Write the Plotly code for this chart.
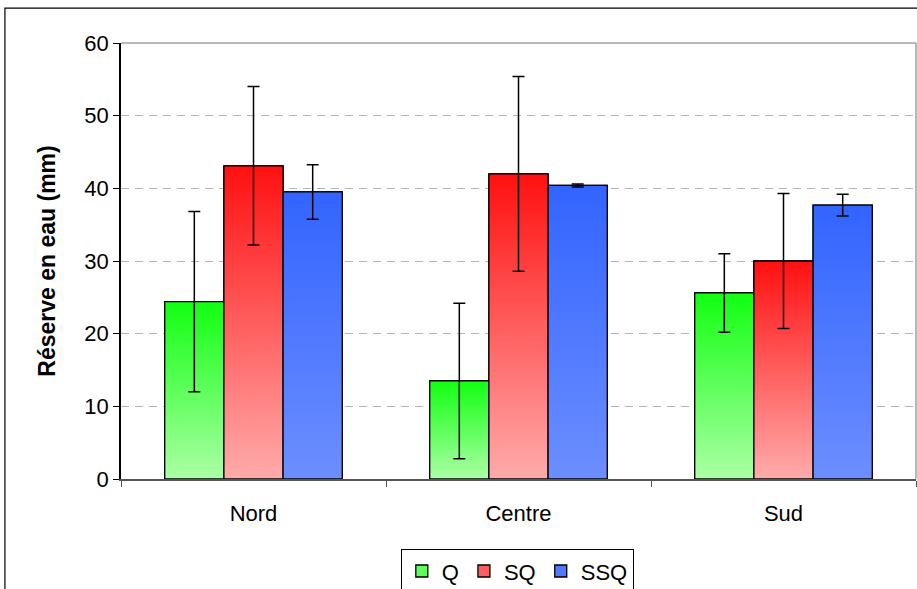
import plotly.graph_objects as go

categories = ["Nord", "Centre", "Sud"]
series_names = ["Q", "SQ", "SSQ"]
q_values = [24.4, 13.5, 25.6]
sq_values = [43.1, 42.0, 30.0]
ssq_values = [39.5, 40.4, 37.7]
q_err = [12.4, 10.7, 5.4]
sq_err = [10.9, 13.4, 9.3]
ssq_err = [3.75, 0.2, 1.5]
y_ticks = [0, 10, 20, 30, 40, 50, 60]

values = [q_values, sq_values, ssq_values]
errors = [q_err, sq_err, ssq_err]
top_colors = ["#12FF12", "#FF1010", "#3264FF"]
bottom_colors = ["#ACFFA6", "#FFABAB", "#6C8EFF"]
mid_colors = ["#5EFF5A", "#FF5E5E", "#4F7AFF"]

bargap = 0.33
w = (1 - bargap) / 3
x_idx = list(range(len(categories)))

fig = go.Figure()

# Data bars (legend + base geometry)
for k, name in enumerate(series_names):
    fig.add_trace(go.Bar(
        x=x_idx, y=values[k], name=name,
        marker=dict(color=mid_colors[k], line=dict(color="black", width=1.3)),
        hoverinfo="skip",
    ))

# Gradient overlay for each bar, same geometry as the bars
for k, name in enumerate(series_names):
    off = (k - 1) * w
    for i, v in enumerate(values[k]):
        x0 = i + off - w / 2
        x1 = i + off + w / 2
        fig.add_trace(go.Scatter(
            x=[x0, x0, x1, x1, x0], y=[0, v, v, 0, 0],
            mode="lines", fill="toself",
            fillgradient=dict(type="vertical", start=0, stop=v,
                              colorscale=[[0, bottom_colors[k]], [1, top_colors[k]]]),
            line=dict(color="black", width=1.3),
            showlegend=False, hoverinfo="skip",
        ))

# Error bars
for k, name in enumerate(series_names):
    off = (k - 1) * w
    fig.add_trace(go.Scatter(
        x=[i + off for i in x_idx], y=values[k], mode="markers",
        marker=dict(size=1, color="rgba(0,0,0,0)"),
        error_y=dict(type="data", array=errors[k], visible=True,
                     color="black", thickness=1.5, width=6),
        showlegend=False, hoverinfo="skip",
    ))

# Outer frame
fig.add_shape(type="rect", xref="paper", yref="paper",
              x0=-0.146, x1=1.05, y0=-0.4, y1=1.080,
              line=dict(color="black", width=1.2), layer="below")

fig.update_layout(
    width=917, height=589,
    margin=dict(l=121, r=1, t=43, b=110, autoexpand=False),
    paper_bgcolor="white", plot_bgcolor="white",
    barmode="group", bargap=bargap, bargroupgap=0,
    font=dict(family="Liberation Sans, Arial, sans-serif", color="black", size=22),
    legend=dict(orientation="h", x=0.4985, xanchor="center", y=-0.161, yanchor="top",
                bordercolor="black", borderwidth=1, bgcolor="white",
                font=dict(size=22), tracegroupgap=0,
                traceorder="normal"),
    showlegend=True,
)

fig.update_xaxes(
    range=[-0.5, 2.5], tickvals=x_idx, ticktext=categories, ticks="",
    showline=True, linecolor="#555555", linewidth=1.5, mirror=False,
    showgrid=False, zeroline=False, tickfont=dict(size=22), automargin=False,
    ticklabelstandoff=14,
    minor=dict(tick0=-0.5, dtick=1, ticks="outside", ticklen=6, tickcolor="#555555", showgrid=False),
)
fig.update_yaxes(
    range=[0, 60], tickvals=y_ticks, ticks="outside", ticklen=6, tickcolor="black",
    showline=True, linecolor="black", linewidth=1.5,
    showgrid=True, gridcolor="#B4B4B4", griddash="8px,6px", gridwidth=1,
    zeroline=False, tickfont=dict(size=22), automargin=False,
    title=dict(text="<b>Réserve en eau (mm)</b>", font=dict(size=23), standoff=22),
)

# Plot-area top and right border (gray)
fig.add_shape(type="line", xref="paper", yref="paper", x0=0, x1=1, y0=1, y1=1,
              line=dict(color="#A0A0A0", width=1.5))
fig.add_shape(type="line", xref="paper", yref="paper", x0=1, x1=1, y0=0, y1=1,
              line=dict(color="#A0A0A0", width=1.5))

fig.write_html(
    "out.html",
    config={"displayModeBar": False},
    post_script="document.body.style.margin='0';document.body.style.overflow='hidden';",
)
